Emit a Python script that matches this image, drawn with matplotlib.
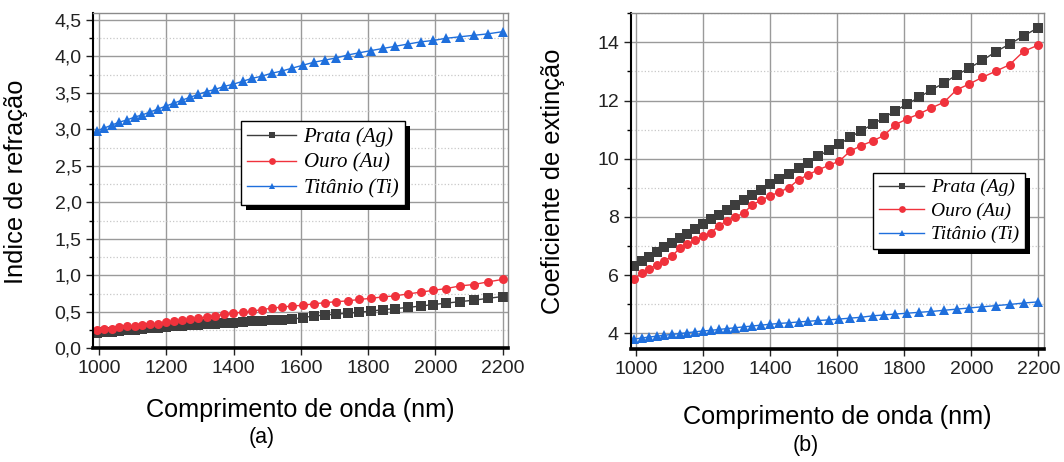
import matplotlib
matplotlib.use("Agg")
import matplotlib.pyplot as plt
import matplotlib.ticker as ticker
from matplotlib.patches import Rectangle
from matplotlib.transforms import IdentityTransform

# wavelength grid (nm)
wl = [993, 1016, 1038, 1060, 1083, 1106, 1129, 1152, 1175, 1199,
      1222, 1246, 1270, 1295, 1320, 1346, 1372, 1399, 1427, 1455,
      1484, 1513, 1543, 1574, 1606, 1638, 1671, 1705, 1739, 1773,
      1808, 1844, 1881, 1918, 1956, 1994, 2033, 2073, 2114, 2156,
      2200]

# (a) refractive index n
n_ag = [0.21, 0.22, 0.23, 0.235, 0.245, 0.255, 0.265, 0.275, 0.285, 0.295,
        0.305, 0.31, 0.32, 0.325, 0.33, 0.335, 0.345, 0.35, 0.36, 0.37,
        0.375, 0.385, 0.39, 0.40, 0.42, 0.445, 0.455, 0.47, 0.48, 0.495,
        0.51, 0.53, 0.545, 0.56, 0.58, 0.60, 0.62, 0.64, 0.66, 0.685,
        0.71]
n_au = [0.25, 0.26, 0.27, 0.29, 0.30, 0.31, 0.32, 0.33, 0.34, 0.355,
        0.37, 0.385, 0.40, 0.415, 0.43, 0.45, 0.465, 0.48, 0.495, 0.51,
        0.53, 0.55, 0.565, 0.58, 0.59, 0.61, 0.625, 0.64, 0.65, 0.67,
        0.685, 0.705, 0.72, 0.745, 0.77, 0.795, 0.82, 0.855, 0.875, 0.91,
        0.945]
n_ti = [2.98, 3.02, 3.06, 3.10, 3.13, 3.17, 3.20, 3.24, 3.28, 3.32,
        3.36, 3.40, 3.44, 3.48, 3.52, 3.55, 3.59, 3.62, 3.66, 3.70,
        3.73, 3.77, 3.80, 3.84, 3.88, 3.92, 3.95, 3.98, 4.02, 4.05,
        4.08, 4.11, 4.14, 4.17, 4.20, 4.22, 4.25, 4.27, 4.29, 4.31,
        4.34]

# (b) extinction coefficient k
k_ag = [6.32, 6.48, 6.62, 6.78, 6.95, 7.12, 7.27, 7.42, 7.60, 7.77,
        7.93, 8.08, 8.24, 8.42, 8.58, 8.76, 8.94, 9.13, 9.30, 9.49,
        9.68, 9.87, 10.08, 10.30, 10.50, 10.74, 10.96, 11.18, 11.41, 11.65,
        11.88, 12.11, 12.37, 12.60, 12.88, 13.12, 13.38, 13.68, 13.94, 14.22,
        14.51]
k_au = [5.85, 6.08, 6.22, 6.35, 6.48, 6.65, 6.92, 7.06, 7.19, 7.33,
        7.45, 7.70, 7.86, 8.00, 8.13, 8.42, 8.57, 8.72, 8.86, 9.00,
        9.28, 9.45, 9.62, 9.77, 9.92, 10.26, 10.45, 10.61, 10.80, 11.17,
        11.37, 11.54, 11.75, 11.94, 12.37, 12.57, 12.80, 13.01, 13.23, 13.69,
        13.91]
k_ti = [3.80, 3.84, 3.87, 3.90, 3.93, 3.96, 3.99, 4.02, 4.05, 4.08,
        4.10, 4.13, 4.16, 4.19, 4.22, 4.25, 4.28, 4.31, 4.34, 4.36,
        4.39, 4.41, 4.44, 4.46, 4.49, 4.52, 4.55, 4.60, 4.63, 4.66,
        4.69, 4.72, 4.75, 4.79, 4.83, 4.87, 4.91, 4.95, 4.99, 5.04,
        5.08]

labels = ["Prata (Ag)", "Ouro (Au)", "Titânio (Ti)"]
colors = ["#3d3d3d", "#f0323c", "#1f6fdc"]
markers = ["s", "o", "^"]

plt.rcParams['font.family'] = ['Liberation Sans', 'DejaVu Sans']

fig = plt.figure(figsize=(10.64, 4.62), dpi=100)
axA = fig.add_axes([0.0877, 0.246, 0.390, 0.7265])
axB = fig.add_axes([0.5928, 0.244, 0.3884, 0.7272])


def style(ax, ymajor, yminor):
    ax.set_xlim(983, 2217)
    ax.xaxis.set_major_locator(ticker.MultipleLocator(200))
    ax.yaxis.set_major_locator(ticker.MultipleLocator(ymajor))
    ax.yaxis.set_minor_locator(ticker.MultipleLocator(yminor))
    ax.grid(which='major', color='#9a9a9a', lw=1.0, ls='-')
    ax.grid(which='minor', axis='y', color='#c8c8c8', lw=0.9, ls=':')
    ax.set_axisbelow(True)
    ax.tick_params(which='major', direction='out', length=5, width=1,
                   labelsize=14, colors='#222222')
    ax.tick_params(which='minor', direction='out', length=3, width=1)
    ax.tick_params(axis='x', which='minor', bottom=False)
    ax.spines['left'].set_linewidth(1.5)
    ax.spines['left'].set_color('black')
    ax.spines['bottom'].set_linewidth(2.6)
    ax.spines['bottom'].set_color('black')
    for s in ['top', 'right']:
        ax.spines[s].set_color('#8a8a8a')
        ax.spines[s].set_linewidth(1.0)


def draw(ax, series):
    for y, lab, c, m in zip(series, labels, colors, markers):
        ax.plot(wl, y, color=c, lw=1.0, marker=m, markersize=6.5,
                markeredgewidth=0, label=lab)


def add_legend(ax, anchor, size):
    leg = ax.legend(loc='upper left', bbox_to_anchor=anchor,
                    prop={'family': 'Liberation Serif', 'style': 'italic', 'size': size},
                    frameon=True, fancybox=False, edgecolor='black', framealpha=1,
                    handlelength=2.35, handletextpad=0.35, borderpad=0.3,
                    labelspacing=0.3, borderaxespad=0, markerscale=0.75)
    leg.get_frame().set_linewidth(1.0)
    return leg


draw(axA, [n_ag, n_au, n_ti])
style(axA, 0.5, 0.25)
axA.set_ylim(0, 4.6)
axA.yaxis.set_major_formatter(ticker.FuncFormatter(lambda v, p: f"{v:.1f}".replace('.', ',')))
axA.set_ylabel("Indice de refração", fontsize=18.3)
axA.yaxis.set_label_coords(-0.157, 0.495)
axA.set_xlabel("Comprimento de onda (nm)", fontsize=18.2)
axA.xaxis.set_label_coords(0.5, -0.148)

draw(axB, [k_ag, k_au, k_ti])
style(axB, 2, 1)
axB.set_ylim(3.45, 15)
axB.set_ylabel("Coeficiente de extinção", fontsize=18.3)
axB.yaxis.set_label_coords(-0.159, 0.5)
axB.set_xlabel("Comprimento de onda (nm)", fontsize=18.2)
axB.xaxis.set_label_coords(0.5, -0.165)

legA = add_legend(axA, (0.356, 0.677), 15)
legB = add_legend(axB, (0.586, 0.525), 14)

fig.text(262 / 1064, 1 - 438 / 462, "(a)", fontsize=15.5, ha='center', va='center')
fig.text(806 / 1064, 1 - 446 / 462, "(b)", fontsize=15.5, ha='center', va='center')

# black drop shadow behind each legend box, offset a few pixels
fig.canvas.draw()
for ax, leg in [(axA, legA), (axB, legB)]:
    bb = leg.get_frame().get_window_extent()
    ax.add_patch(Rectangle((bb.x0 + 5, bb.y0 - 5), bb.width, bb.height,
                           transform=IdentityTransform(), facecolor='black',
                           edgecolor='none', zorder=4.5, clip_on=False))

fig.savefig("out.png", dpi=100, facecolor='white')
